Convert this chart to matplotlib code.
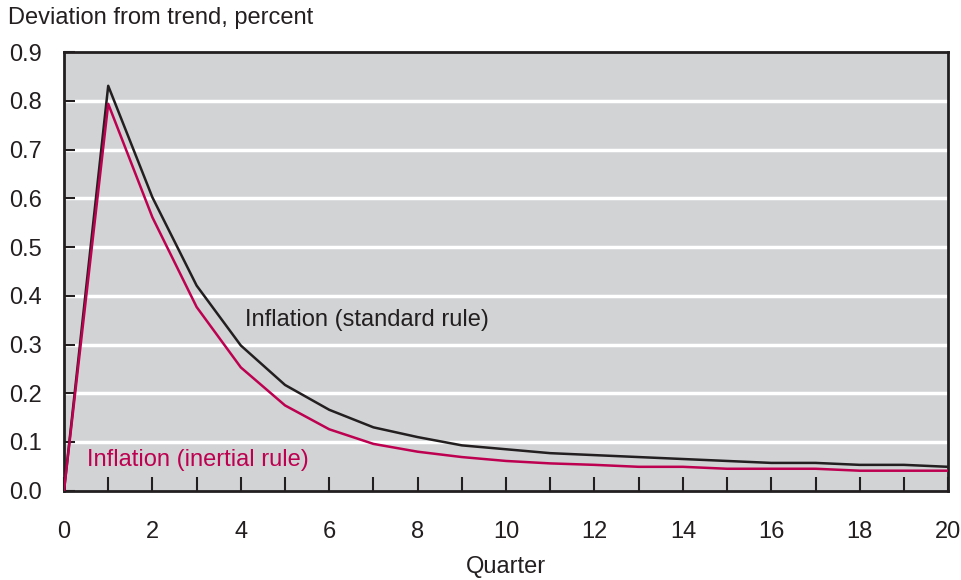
import matplotlib
matplotlib.use('Agg')
from matplotlib import pyplot as plt

plt.rcParams['font.family'] = ['Liberation Sans', 'DejaVu Sans']

# Données
quarters = list(range(0, 21))
standard_rule = [0.0, 0.831, 0.602, 0.421, 0.298, 0.217, 0.166, 0.130, 0.110, 0.093, 0.085,
                 0.077, 0.073, 0.069, 0.065, 0.061, 0.057, 0.057, 0.053, 0.053, 0.049]
inertial_rule = [0.0, 0.794, 0.561, 0.377, 0.253, 0.175, 0.126, 0.096, 0.080, 0.069, 0.061,
                 0.056, 0.053, 0.049, 0.049, 0.045, 0.045, 0.045, 0.041, 0.041, 0.041]
x_ticks = list(range(0, 21, 2))
y_ticks = [0.0, 0.1, 0.2, 0.3, 0.4, 0.5, 0.6, 0.7, 0.8, 0.9]

DARK = '#231f20'
RED = '#bd0050'
FS = 17

fig = plt.figure(figsize=(9.61, 5.8), dpi=100)
ax = fig.add_axes([0.0666, 0.154, 0.92, 0.756])
ax.set_facecolor('#d1d3d5')

# Grille horizontale blanche
for y in y_ticks[1:-1]:
    ax.axhline(y, color='white', linewidth=2.5, zorder=1)

ax.plot(quarters, standard_rule, color=DARK, linewidth=1.8, zorder=3)
ax.plot(quarters, inertial_rule, color=RED, linewidth=1.8, zorder=3)

ax.set_xlim(0, 20)
ax.set_ylim(0, 0.9)
ax.set_xticks(x_ticks)
ax.set_yticks(y_ticks)
ax.set_xticks(quarters, minor=True)
ax.set_yticklabels([f'{v:.1f}' for v in y_ticks])

for s in ax.spines.values():
    s.set_linewidth(2)
    s.set_color(DARK)

ax.tick_params(axis='both', which='both', direction='in', color=DARK, width=1.5,
               labelsize=FS, labelcolor=DARK)
ax.tick_params(axis='x', which='both', length=10, pad=22)
ax.tick_params(axis='y', which='major', length=8, pad=16)

ax.set_xlabel('Quarter', fontsize=FS, color=DARK, labelpad=9)
fig.text(8 / 961, 1 - 18 / 580, 'Deviation from trend, percent', fontsize=FS,
         color=DARK, ha='left', va='center')

ax.text(4.1, 0.351, 'Inflation (standard rule)', fontsize=FS, color=DARK, va='center')
ax.text(0.52, 0.063, 'Inflation (inertial rule)', fontsize=FS, color=RED, va='center')

fig.savefig('out.png', dpi=100)
